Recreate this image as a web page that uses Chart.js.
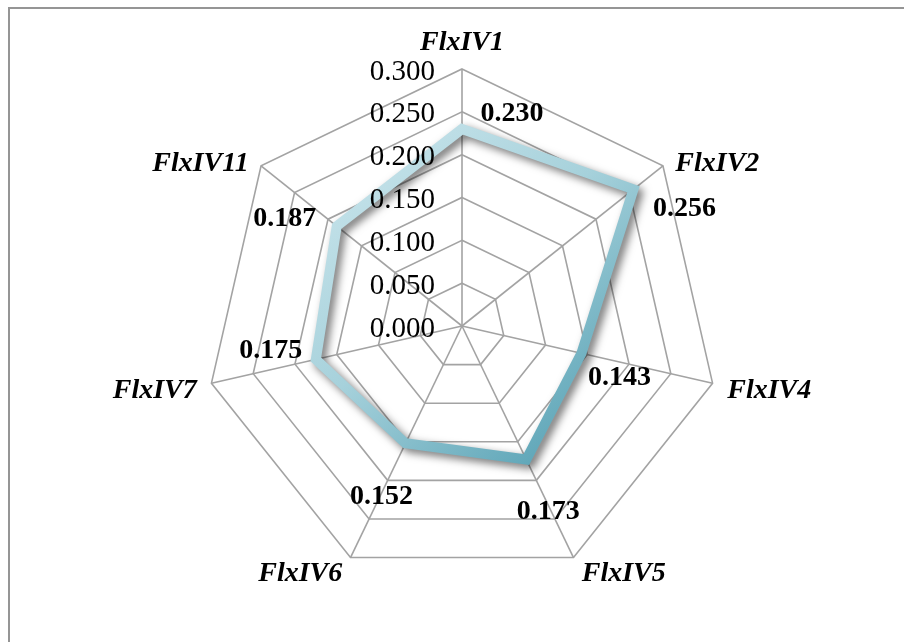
<!DOCTYPE html>
<html>
<head>
<meta charset="utf-8">
<script src="https://cdn.jsdelivr.net/npm/chart.js@4/dist/chart.umd.min.js"></script>
<style>
  html, body { margin: 0; padding: 0; background: #ffffff; }
  #wrap { position: relative; width: 904px; height: 642px; }
  canvas { display: block; }
</style>
</head>
<body>
<div id="wrap"><canvas id="radar" width="904" height="642"></canvas></div>
<script>
// Axis categories, clockwise from the top
const categories = ['FlxIV1', 'FlxIV2', 'FlxIV4', 'FlxIV5', 'FlxIV6', 'FlxIV7', 'FlxIV11'];
// Series values
const seriesValues = [0.230, 0.256, 0.143, 0.173, 0.152, 0.175, 0.187];
// Radial tick labels
const tickLabels = ['0.000', '0.050', '0.100', '0.150', '0.200', '0.250', '0.300'];
const scaleMin = 0;
const scaleMax = 0.3;
const scaleStep = 0.05;

// Where each value label sits relative to its vertex (dx, dy in px)
const valueLabelOffsets = [[50, -17], [51, 18], [38, 23], [22, 50], [-24, 51], [-45, -11], [-52, -9]];

const serif = '"Liberation Serif", "Times New Roman", Times, serif';

// Frame lines along the top and left edges
const framePlugin = {
  id: 'frame',
  beforeDraw(chart) {
    const ctx = chart.ctx;
    ctx.save();
    ctx.fillStyle = '#ffffff';
    ctx.fillRect(0, 0, chart.width, chart.height);
    ctx.strokeStyle = '#959595';
    ctx.lineWidth = 2;
    ctx.beginPath();
    ctx.moveTo(9, chart.height);
    ctx.lineTo(9, 8);
    ctx.lineTo(chart.width, 8);
    ctx.stroke();
    ctx.restore();
  }
};

// Soft drop shadow under the series line
const shadowPlugin = {
  id: 'lineShadow',
  beforeDatasetsDraw(chart) {
    const ctx = chart.ctx;
    ctx.save();
    ctx.shadowColor = 'rgba(0, 0, 0, 0.55)';
    ctx.shadowBlur = 8;
    ctx.shadowOffsetX = 4;
    ctx.shadowOffsetY = 4;
  },
  afterDatasetsDraw(chart) {
    chart.ctx.restore();
  }
};

// Category names outside the outer ring, tick labels left of the vertical
// axis, value labels next to each vertex
const labelsPlugin = {
  id: 'radarLabels',
  afterDraw(chart) {
    const ctx = chart.ctx;
    const r = chart.scales.r;
    ctx.save();
    ctx.fillStyle = '#000000';

    // category names
    ctx.font = 'italic bold 28px ' + serif;
    ctx.textBaseline = 'middle';
    categories.forEach((name, i) => {
      const p = r.getPointPosition(i, r.drawingArea + 12);
      const a = r.getIndexAngle(i);
      const s = Math.sin(a);
      if (Math.abs(s) < 0.1) {
        ctx.textAlign = 'center';
        ctx.fillText(name, p.x, p.y - 14);
      } else {
        ctx.textAlign = s > 0 ? 'left' : 'right';
        ctx.fillText(name, p.x + (s > 0 ? 3 : -3), p.y + 5);
      }
    });

    // radial tick labels
    ctx.font = '29px ' + serif;
    ctx.textAlign = 'right';
    tickLabels.forEach((txt) => {
      const v = parseFloat(txt);
      const y = r.yCenter - r.getDistanceFromCenterForValue(v);
      ctx.fillText(txt, r.xCenter - 27, y + 3);
    });

    // value labels
    ctx.font = 'bold 28px ' + serif;
    ctx.textAlign = 'center';
    const meta = chart.getDatasetMeta(0);
    meta.data.forEach((pt, i) => {
      const off = valueLabelOffsets[i];
      ctx.fillText(seriesValues[i].toFixed(3), pt.x + off[0], pt.y + off[1] + 2);
    });
    ctx.restore();
  }
};

function lineGradient(context) {
  const chart = context.chart;
  const r = chart.scales.r;
  if (!r || !r.drawingArea) return '#8fc4d0';
  const cx = r.xCenter, cy = r.yCenter, R = r.drawingArea;
  const g = chart.ctx.createLinearGradient(cx - 0.55 * R, cy - 0.6 * R, cx + 0.45 * R, cy + 0.55 * R);
  g.addColorStop(0, '#c8e4eb');
  g.addColorStop(0.45, '#a6d1db');
  g.addColorStop(1, '#55a0b3');
  return g;
}

new Chart(document.getElementById('radar'), {
  type: 'radar',
  data: {
    labels: categories,
    datasets: [{
      data: seriesValues,
      borderColor: lineGradient,
      borderWidth: 10,
      borderJoinStyle: 'miter',
      fill: false,
      tension: 0,
      pointRadius: 0,
      pointHoverRadius: 0
    }]
  },
  options: {
    responsive: false,
    devicePixelRatio: 1,
    animation: false,
    layout: { padding: { top: 69, bottom: 59, left: 120, right: 100 } },
    plugins: {
      legend: { display: false },
      tooltip: { enabled: false }
    },
    scales: {
      r: {
        min: scaleMin,
        max: scaleMax,
        beginAtZero: true,
        ticks: { stepSize: scaleStep, display: false },
        grid: { color: '#a3a3a3', lineWidth: 1.6 },
        angleLines: { color: '#a3a3a3', lineWidth: 1.6 },
        pointLabels: { display: false }
      }
    }
  },
  plugins: [framePlugin, shadowPlugin, labelsPlugin]
});
</script>
</body>
</html>
